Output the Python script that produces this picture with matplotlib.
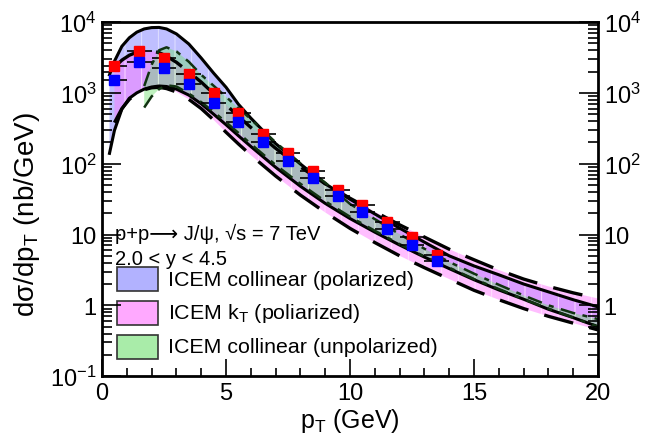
import matplotlib
matplotlib.use("Agg")
import matplotlib.pyplot as plt
from matplotlib.patches import Rectangle
from matplotlib.ticker import FixedLocator, FixedFormatter, MultipleLocator, LogLocator, NullFormatter

plt.rcParams["font.family"] = ["Liberation Sans", "DejaVu Sans"]
plt.rcParams["mathtext.fontset"] = "custom"
plt.rcParams["mathtext.rm"] = "Liberation Sans"
plt.rcParams["mathtext.it"] = "Liberation Sans:italic"
plt.rcParams["hatch.linewidth"] = 0.6

# data points (two datasets, pT bins 1 GeV wide)
pt_data = [0.5, 1.5, 2.5, 3.5, 4.5, 5.5, 6.5, 7.5, 8.5, 9.5, 10.5, 11.5, 12.5, 13.5]
red_vals = [2410, 3940, 3070, 1850, 985, 513, 262, 141, 78, 42.8, 26, 14.8, 9.1, 5.2]
blue_vals = [1530, 2700, 2240, 1330, 718, 383, 200, 108, 63, 34.5, 20.5, 11.9, 7.2, 4.2]

# ICEM collinear (polarized) band
pt_cp = [0.3, 0.5, 0.8, 1.1, 1.4, 1.7, 2.0, 2.3, 2.6, 3.0, 3.5, 4.0, 4.5, 5.0, 5.5,
         6, 7, 8, 9, 10, 11, 12, 13, 14, 15, 16, 17, 18, 19, 20]
cp_hi = [1800, 2800, 4550, 6000, 7200, 8000, 8350, 8400, 8000, 6800, 4900, 3100, 1900,
         1200, 690, 440, 192, 99, 52, 31.5, 19.5, 12.3, 7.8, 5.0, 3.6, 2.7, 2.0, 1.55, 1.2, 0.95]
cp_lo = [140, 295, 590, 840, 1000, 1130, 1210, 1250, 1230, 1130, 930, 700, 500, 355,
         248, 175, 89, 48, 27.5, 16.8, 10.8, 7.1, 4.8, 3.3, 2.3, 1.65, 1.22, 0.88, 0.67, 0.5]

# ICEM kT (polarized) band
pt_kt = [0.5, 0.8, 1.1, 1.4, 1.7, 2.0, 2.3, 2.6, 3.0, 3.5, 4.0, 4.5, 5.0, 5.5,
         6, 7, 8, 9, 10, 11, 12, 13, 14, 15, 16, 17, 18, 19, 20]
kt_hi = [2300, 2900, 3400, 3750, 3900, 3900, 3700, 3300, 2700, 1970, 1420, 975, 680,
         465, 325, 165, 90, 52, 32.5, 21, 13.7, 9.2, 6.2, 4.4, 3.15, 2.35, 1.85, 1.5, 1.25]
kt_lo = [380, 600, 810, 990, 1110, 1180, 1200, 1150, 1030, 810, 600, 415, 278, 190,
         132, 67, 36, 20.5, 12.2, 7.7, 5.0, 3.4, 2.35, 1.63, 1.2, 0.9, 0.7, 0.56, 0.45]

# ICEM collinear (unpolarized) band
pt_cu = [1.7, 2.0, 2.3, 2.6, 3.0, 3.5, 4.0, 4.5, 5.0, 5.5, 6, 7, 8, 9, 10, 11, 12,
         13, 14, 15, 16, 17, 18, 19, 20]
cu_hi = [1250, 2500, 4000, 4400, 3850, 2750, 1800, 1260, 880, 610, 425, 200, 101, 54,
         27, 16.5, 10.1, 6.3, 4.1, 2.8, 1.95, 1.38, 1.0, 0.78, 0.64]
cu_lo = [620, 890, 1130, 1280, 1230, 980, 740, 540, 385, 272, 190, 96, 52, 29.5, 17.8,
         11.3, 7.3, 4.9, 3.4, 2.35, 1.7, 1.22, 0.9, 0.67, 0.5]

labels = ["ICEM collinear (polarized)", r"ICEM k$_{\mathrm{T}}$ (poliarized)",
          "ICEM collinear (unpolarized)"]
ytick_vals = [0.1, 1, 10, 100, 1000, 10000]
ytick_text = [r"$10^{-1}$", "1", "10", r"$10^{2}$", r"$10^{3}$", r"$10^{4}$"]

c_blue = "#8080ff"
c_pink = "#ff70ff"
c_green = "#70e070"

fig = plt.figure(figsize=(6.5, 4.35), dpi=100)
ax = fig.add_axes([0.157, 0.133, 0.763, 0.814])

for x, lo, hi, c, a in [(pt_cp, cp_lo, cp_hi, c_blue, 0.5), (pt_kt, kt_lo, kt_hi, c_pink, 0.45),
                        (pt_cu, cu_lo, cu_hi, c_green, 0.45)]:
    ax.fill_between(x, lo, hi, facecolor=c, alpha=a, lw=0)
    ax.fill_between(x, lo, hi, facecolor="none", edgecolor=(1, 1, 1, 0.6), hatch="|", lw=0)

ax.plot(pt_cp, cp_hi, color="black", lw=2.2)
ax.plot(pt_cp, cp_lo, color="black", lw=2.2)
ax.plot(pt_kt, kt_hi, color="black", lw=2.4, dashes=(9, 5))
ax.plot(pt_kt, kt_lo, color="black", lw=2.4, dashes=(9, 5))
ax.plot(pt_cu, cu_hi, color="#113311", lw=1.8, dashes=(6, 3, 2, 3))
ax.plot(pt_cu, cu_lo, color="#113311", lw=1.8, dashes=(6, 3, 2, 3))

ax.errorbar(pt_data, red_vals, xerr=0.5, fmt="s", color="red", ms=7, mec="red",
            ecolor="black", elinewidth=1.2, capsize=0, zorder=5)
ax.errorbar(pt_data, blue_vals, xerr=0.5, fmt="s", color="blue", ms=7, mec="blue",
            ecolor="black", elinewidth=1.2, capsize=0, zorder=6)

ax.set_yscale("log")
ax.set_xlim(0, 20)
ax.set_ylim(0.1, 10000)
ax.xaxis.set_major_locator(MultipleLocator(5))
ax.xaxis.set_minor_locator(MultipleLocator(1))
ax.yaxis.set_major_locator(FixedLocator(ytick_vals))
ax.yaxis.set_major_formatter(FixedFormatter(ytick_text))
ax.yaxis.set_minor_locator(LogLocator(base=10, subs=range(2, 10)))
ax.yaxis.set_minor_formatter(NullFormatter())
ax.tick_params(which="both", direction="in", top=False, right=False, labelsize=17,
               width=1.2, pad=4)
ax.tick_params(axis="y", which="major", length=14)
ax.tick_params(axis="y", which="minor", length=7)
ax.tick_params(axis="x", which="major", length=12)
ax.tick_params(axis="x", which="minor", length=6)
for s in ax.spines.values():
    s.set_linewidth(2)

# right-hand axis carries its own labels (no 10^-1 there)
ax2 = ax.twinx()
ax2.set_yscale("log")
ax2.set_ylim(0.1, 10000)
ax2.yaxis.set_major_locator(FixedLocator(ytick_vals[1:]))
ax2.yaxis.set_major_formatter(FixedFormatter(ytick_text[1:]))
ax2.yaxis.set_minor_locator(LogLocator(base=10, subs=range(2, 10)))
ax2.yaxis.set_minor_formatter(NullFormatter())
ax2.tick_params(which="both", direction="in", labelsize=17, width=1.2, pad=4)
ax2.tick_params(which="major", length=14)
ax2.tick_params(which="minor", length=7)
for s in ax2.spines.values():
    s.set_visible(False)

ax.set_xlabel(r"p$_{\mathrm{T}}$ (GeV)", fontsize=18, labelpad=2)
ax.set_ylabel(r"dσ/dp$_{\mathrm{T}}$ (nb/GeV)", fontsize=20)
ax.yaxis.set_label_coords(-0.122, 0.46)

ax.text(0.026, 0.387, "p+p⟶ J/ψ, √s = 7 TeV",
        transform=ax.transAxes, fontsize=14.5, va="baseline")
ax.text(0.026, 0.316, "2.0 < y < 4.5", transform=ax.transAxes, fontsize=14.5, va="baseline")

for i, (lab, c) in enumerate(zip(labels, [c_blue, c_pink, c_green])):
    yc = 0.274 - i * 0.0955
    ax.add_patch(Rectangle((0.030, yc - 0.034), 0.083, 0.068, transform=ax.transAxes,
                           facecolor=c, alpha=0.6, edgecolor="none"))
    ax.add_patch(Rectangle((0.030, yc - 0.034), 0.083, 0.068, transform=ax.transAxes,
                           facecolor="none", edgecolor="#333333", lw=1.2))
    ax.text(0.133, yc, lab, transform=ax.transAxes, fontsize=15.4, va="center")

fig.savefig("out.png", dpi=100)
